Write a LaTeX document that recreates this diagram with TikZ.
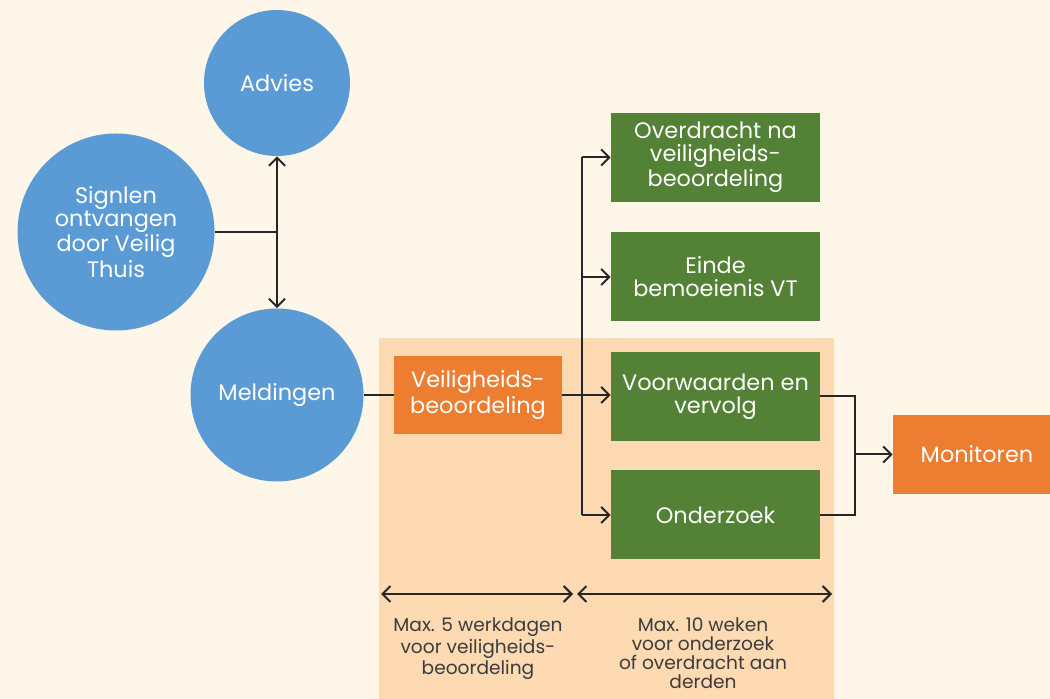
\documentclass[tikz,border=0pt]{standalone}
\usepackage{fontspec}
\setmainfont{Poppins}
\usetikzlibrary{arrows.meta,calc}

\definecolor{cream}{HTML}{FEF6E8}
\definecolor{peach}{HTML}{FDDAB1}
\definecolor{vtblue}{HTML}{5B9BD5}
\definecolor{vtorange}{HTML}{ED7D31}
\definecolor{vtgreen}{HTML}{538135}
\definecolor{lijn}{HTML}{262626}

\tikzset{
  blob/.style={circle,fill=vtblue,text=white,align=center,inner sep=0pt,font=\fontsize{11.2}{11.5}\selectfont},
  groenbox/.style={rectangle,fill=vtgreen,text=white,align=center,minimum width=104.5pt,minimum height=44.5pt,inner sep=0pt,font=\fontsize{11.2}{11.5}\selectfont},
  oranjebox/.style={rectangle,fill=vtorange,text=white,align=center,inner sep=0pt,font=\fontsize{11.2}{11.5}\selectfont},
  pijl/.style={draw=lijn,line width=1pt},
  noot/.style={text=lijn!90,align=center,font=\fontsize{9.3}{9.5}\selectfont},
}

\begin{document}
\begin{tikzpicture}[x=0.5pt,y=-0.5pt,>={Straight Barb[length=4pt,width=8pt,line width=1pt]}]
\useasboundingbox[fill=cream] (0,0) rectangle (1050,699);
\fill[peach] (379,338) rectangle (834,699);

% cirkels
\node[blob,minimum size=73pt] (adv) at (277,83) {Advies};
\node[blob,minimum size=98.5pt] (sig) at (116,232) {Signlen\\ontvangen\\door Veilig\\Thuis};
\node[blob,minimum size=86.5pt] (mel) at (277,395) {Meldingen};

% blokken
\node[oranjebox,minimum width=84pt,minimum height=39pt] (vb) at (478,395) {Veiligheids-\\beoordeling};
\node[groenbox] (ov) at (715.5,157.5) {Overdracht na\\veiligheids-\\beoordeling};
\node[groenbox] (ei) at (715.5,277) {Einde\\bemoeienis VT};
\node[groenbox] (vv) at (715.5,396.5) {Voorwaarden en\\vervolg};
\node[groenbox] (oz) at (715.5,515) {Onderzoek};
\node[oranjebox,minimum width=84pt,minimum height=39.5pt] (mon) at (977,454.5) {Monitoren};

% verbindingen
\coordinate (split) at (582,0);
\coordinate (join) at (855,0);
\draw[pijl] (sig.east) -- (sig.east -| adv.south);
\draw[pijl,<->] (adv.south) -- (mel.north);
\draw[pijl] (mel.east) -- (vb.west);
\draw[pijl,->] (vb.east) -- (vb.east -| vv.west);
\draw[pijl] (split |- ov.west) -- (split |- oz.west);
\foreach \b in {ov,ei,oz} {\draw[pijl,->] (split |- \b.west) -- (\b.west);}
\draw[pijl] (vv.east) -| (join |- oz.east) -- (oz.east);
\draw[pijl,->] (join |- mon.west) -- (mon.west);

% termijnen
\coordinate (t1) at (381,594);
\coordinate (t2) at (573,594);
\coordinate (t3) at (577,594);
\coordinate (t4) at (832,594);
\draw[pijl,<->] (t1) -- (t2);
\draw[pijl,<->] (t3) -- (t4);
\node[noot,anchor=north] (n1) at (478,611) {Max. 5 werkdagen\\voor veiligheids-\\beoordeling};
\node[noot,anchor=north] (n2) at (703,611) {Max. 10 weken\\voor onderzoek\\of overdracht aan\\derden};
\end{tikzpicture}
\end{document}
